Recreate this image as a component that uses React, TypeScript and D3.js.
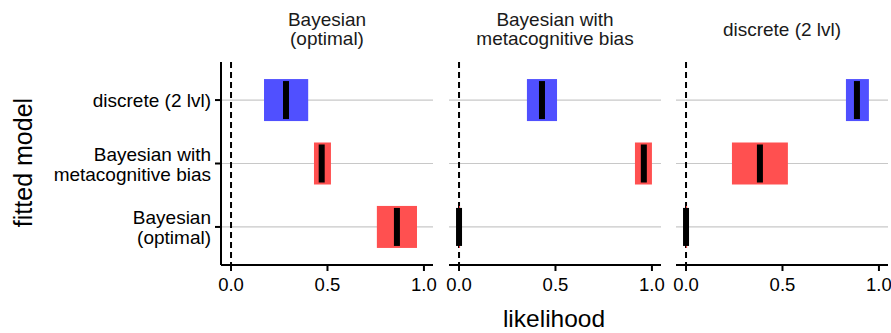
import React from "react";
import * as d3 from "d3";

const panels = ["Bayesian\n(optimal)", "Bayesian with\nmetacognitive bias", "discrete (2 lvl)"];
const fittedModels = ["Bayesian\n(optimal)", "Bayesian with\nmetacognitive bias", "discrete (2 lvl)"];
const modelKind = ["bayes", "bayes", "discrete"];
// median per panel, per fitted model (order of fittedModels)
const medians = [
  [0.86, 0.47, 0.285],
  [0.0, 0.958, 0.43],
  [0.0, 0.383, 0.886],
];
const lows = [
  [0.756, 0.43, 0.171],
  [0.0, 0.912, 0.352],
  [0.0, 0.238, 0.829],
];
const highs = [
  [0.964, 0.518, 0.4],
  [0.004, 1.0, 0.508],
  [0.004, 0.528, 0.948],
];
const xTicks = [0, 0.5, 1];
const xTickLabels = ["0.0", "0.5", "1.0"];

const W = 891;
const H = 333;
const FONT = "'Liberation Sans', Arial, Helvetica, sans-serif";
const panelLeft = [221, 449, 676];
const panelW = 212;
const top = 62;
const bottom = 265;
const colors: Record<string, string> = { bayes: "#ff5050", discrete: "#5050ff" };

export default function App() {
  const y = d3.scalePoint<string>().domain(fittedModels).range([bottom, top]).padding(0.6);
  return (
    <svg width={W} height={H} style={{ display: "block", position: "absolute", left: 0, top: 0 }} fontFamily={FONT}>
      <rect width={W} height={H} fill="#fff" />
      {panels.map((p, pi) => {
        const x = d3.scaleLinear().domain([-0.052, 1.047]).range([panelLeft[pi], panelLeft[pi] + panelW]);
        const cx = panelLeft[pi] + panelW / 2;
        const titleLines = p.split("\n");
        return (
          <g key={pi}>
            {titleLines.map((t, i) => (
              <text key={i} x={cx} y={titleLines.length === 1 ? 36 : 25.5 + i * 19.5} textAnchor="middle" fontSize={19} fill="#1a1a1a">{t}</text>
            ))}
            {fittedModels.map((m) => (
              <line key={m} x1={x.range()[0]} x2={x.range()[1]} y1={y(m)} y2={y(m)} stroke="#c8c8c8" strokeWidth={1.2} />
            ))}
            <line x1={x(0)} x2={x(0)} y1={top} y2={bottom} stroke="#000" strokeWidth={2} strokeDasharray="6,4" />
            {fittedModels.map((m, mi) => {
              const yc = y(m)!;
              const bh = 42;
              const lo = lows[pi][mi];
              const hi = highs[pi][mi];
              return (
                <g key={m}>
                  <rect x={x(lo)} y={yc - bh / 2} width={Math.max(x(hi) - x(lo), 1)} height={bh} fill={colors[modelKind[mi]]} />
                  <rect x={x(medians[pi][mi]) - 3} y={yc - 19} width={6} height={38} fill="#000" />
                </g>
              );
            })}
            <line x1={x.range()[0]} x2={x.range()[1]} y1={bottom} y2={bottom} stroke="#000" strokeWidth={2} />
            {xTicks.map((t, i) => (
              <g key={t}>
                <line x1={x(t)} x2={x(t)} y1={bottom} y2={bottom + 6} stroke="#000" strokeWidth={2} />
                <text x={x(t)} y={bottom + 26} textAnchor="middle" fontSize={18.5} fill="#000">{xTickLabels[i]}</text>
              </g>
            ))}
            {pi === 0 && (
              <g>
                <line x1={panelLeft[0]} x2={panelLeft[0]} y1={top} y2={bottom} stroke="#000" strokeWidth={2} />
                {fittedModels.map((m) => {
                  const lines = m.split("\n");
                  const yc = y(m)!;
                  return (
                    <g key={m}>
                      <line x1={panelLeft[0] - 6} x2={panelLeft[0]} y1={yc} y2={yc} stroke="#000" strokeWidth={2} />
                      {lines.map((l, li) => (
                        <text key={li} x={panelLeft[0] - 10} y={yc + 7 + (li - (lines.length - 1) / 2) * 20} textAnchor="end" fontSize={19} fill="#000">{l}</text>
                      ))}
                    </g>
                  );
                })}
              </g>
            )}
          </g>
        );
      })}
      <text x={554} y={327} textAnchor="middle" fontSize={24.5} fill="#000">likelihood</text>
      <text transform={`translate(32, 162.5) rotate(-90)`} textAnchor="middle" fontSize={25} fill="#000">fitted model</text>
    </svg>
  );
}
